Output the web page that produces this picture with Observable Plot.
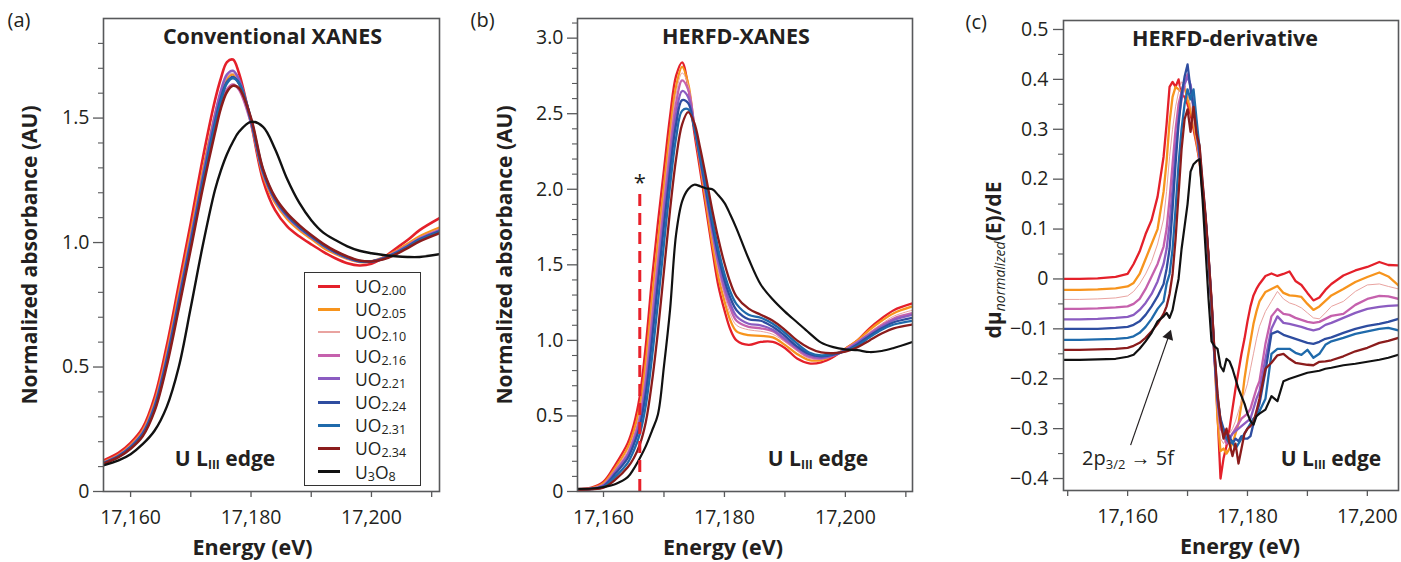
<!DOCTYPE html>
<html><head><meta charset="utf-8">
<script src="https://cdn.jsdelivr.net/npm/d3@7"></script>
<script src="https://cdn.jsdelivr.net/npm/@observablehq/plot@0.6"></script>
<style>
body{margin:0;background:#fff;}
#wrap{position:relative;width:1401px;height:562px;overflow:hidden;font-family:'Open Sans',sans-serif;color:#231f20;background:#fff;}
#wrap svg{position:absolute;top:0;}
.ov{position:absolute;white-space:nowrap;transform:translate(-50%,-50%);line-height:1;}
.edge{font-weight:bold;font-size:21px;}
.edge sub{font-size:12px;vertical-align:baseline;position:relative;top:3px;}
.ann{font-size:20px;}
.ann sub{font-size:13px;vertical-align:baseline;position:relative;top:4px;}
.ylab{font-weight:bold;font-size:21px;transform:translate(-50%,-50%) rotate(-90deg);}
.ylab sub{font-weight:normal;font-style:italic;font-size:14px;vertical-align:baseline;position:relative;top:4px;}
#legend{position:absolute;left:304px;top:272px;width:115px;height:212px;border:1.5px solid #333;background:#fff;}
.li{position:absolute;left:0;height:22px;width:115px;}
.li .sw{position:absolute;left:13px;width:22px;top:50%;}
.li .tx{position:absolute;left:50px;top:50%;transform:translateY(-52%);font-size:17.5px;line-height:18px;white-space:nowrap;}
.li .tx sub{font-size:12.5px;line-height:0;vertical-align:baseline;position:relative;top:2px;}
</style></head><body><div id="wrap"></div>
<script>
// ---------- series ----------
const seriesLabels = ["UO2.00","UO2.05","UO2.10","UO2.16","UO2.21","UO2.24","UO2.31","UO2.34","U3O8"];
const legendHtml = ["UO<sub>2.00</sub>","UO<sub>2.05</sub>","UO<sub>2.10</sub>","UO<sub>2.16</sub>","UO<sub>2.21</sub>","UO<sub>2.24</sub>","UO<sub>2.31</sub>","UO<sub>2.34</sub>","U<sub>3</sub>O<sub>8</sub>"];
const seriesColors = ["#e4202a","#f7941d","#e9a3a0","#c561ad","#8b5cc1","#2e4da0","#1f6aab","#8b1c1c","#111111"];

// ---------- panel (a) conventional XANES ----------
const energyA = [17155.5,17158,17160,17162,17164,17166,17168,17170,17172,17174,17175,17176,17177,17178,17180,17182,17184,17186,17188,17190,17192,17194,17196,17198,17200,17202,17204,17206,17208,17211.3];
const aUO200 = [0.125,0.155,0.195,0.255,0.38,0.585,0.83,1.08,1.34,1.57,1.66,1.725,1.735,1.68,1.48,1.25,1.13,1.065,1.025,0.993,0.963,0.937,0.917,0.908,0.915,0.94,0.975,1.01,1.05,1.098];
const aUO205 = [0.118,0.147,0.186,0.243,0.36,0.555,0.795,1.04,1.29,1.51,1.60,1.66,1.675,1.64,1.485,1.27,1.16,1.095,1.05,1.015,0.98,0.955,0.935,0.922,0.925,0.94,0.965,0.995,1.025,1.06];
const aUO210 = [0.117,0.146,0.184,0.24,0.355,0.548,0.787,1.03,1.28,1.51,1.60,1.665,1.68,1.645,1.49,1.275,1.165,1.10,1.055,1.02,0.985,0.957,0.937,0.923,0.925,0.94,0.963,0.99,1.02,1.055];
const aUO216 = [0.116,0.144,0.181,0.236,0.348,0.538,0.775,1.015,1.26,1.48,1.56,1.615,1.635,1.615,1.48,1.28,1.17,1.105,1.06,1.022,0.988,0.96,0.938,0.924,0.924,0.938,0.96,0.988,1.017,1.05];
const aUO221 = [0.115,0.143,0.18,0.234,0.345,0.535,0.772,1.015,1.27,1.51,1.61,1.675,1.69,1.655,1.49,1.28,1.17,1.105,1.058,1.022,0.988,0.96,0.938,0.924,0.924,0.937,0.959,0.986,1.015,1.048];
const aUO224 = [0.114,0.142,0.178,0.231,0.34,0.527,0.762,1.0,1.25,1.48,1.58,1.645,1.665,1.64,1.49,1.285,1.175,1.11,1.062,1.025,0.99,0.962,0.94,0.925,0.924,0.936,0.957,0.984,1.013,1.045];
const aUO231 = [0.113,0.14,0.175,0.227,0.333,0.517,0.75,0.99,1.24,1.47,1.57,1.64,1.66,1.64,1.495,1.29,1.178,1.113,1.065,1.027,0.992,0.963,0.941,0.926,0.924,0.935,0.955,0.982,1.01,1.042];
const aUO234 = [0.112,0.138,0.172,0.222,0.325,0.505,0.735,0.975,1.22,1.44,1.54,1.605,1.63,1.62,1.50,1.295,1.182,1.117,1.07,1.03,0.995,0.966,0.944,0.928,0.924,0.933,0.952,0.978,1.005,1.038];
const aU3O8  = [0.105,0.125,0.15,0.19,0.245,0.34,0.5,0.74,0.99,1.21,1.29,1.355,1.405,1.445,1.485,1.465,1.375,1.255,1.16,1.09,1.04,1.01,0.985,0.967,0.957,0.95,0.945,0.942,0.942,0.953];

// ---------- panel (b) HERFD-XANES ----------
const energyB = [17155.7,17158,17160,17162,17164,17165,17166,17167,17168,17169,17170,17171,17172,17173,17174,17175,17176,17177,17178,17179,17180,17181,17182,17184,17186,17188,17190,17192,17194,17196,17198,17200,17202,17204,17206,17208,17211.1];
const bUO200 = [0.015,0.025,0.065,0.18,0.32,0.44,0.63,0.97,1.40,1.78,2.13,2.48,2.75,2.84,2.68,2.38,2.12,1.86,1.60,1.36,1.20,1.07,1.0,0.97,0.99,0.99,0.95,0.88,0.848,0.855,0.89,0.945,1.0,1.08,1.145,1.20,1.245];
const bUO205 = [0.015,0.022,0.055,0.16,0.29,0.40,0.56,0.86,1.27,1.65,2.02,2.38,2.68,2.81,2.70,2.42,2.16,1.90,1.64,1.42,1.26,1.13,1.06,1.035,1.03,1.02,0.97,0.91,0.87,0.87,0.9,0.945,1.0,1.07,1.13,1.18,1.225];
const bUO210 = [0.014,0.02,0.05,0.15,0.27,0.37,0.52,0.80,1.2,1.58,1.96,2.32,2.63,2.77,2.69,2.43,2.18,1.93,1.68,1.46,1.30,1.17,1.10,1.07,1.06,1.04,0.99,0.93,0.88,0.875,0.9,0.945,0.995,1.055,1.11,1.16,1.20];
const bUO216 = [0.014,0.02,0.045,0.14,0.25,0.35,0.49,0.75,1.13,1.52,1.90,2.26,2.57,2.72,2.66,2.43,2.19,1.95,1.71,1.50,1.33,1.21,1.13,1.09,1.08,1.06,1.0,0.94,0.89,0.88,0.9,0.94,0.99,1.045,1.10,1.145,1.18];
const bUO221 = [0.013,0.018,0.04,0.13,0.24,0.33,0.46,0.70,1.06,1.45,1.83,2.19,2.50,2.65,2.61,2.42,2.19,1.96,1.73,1.52,1.36,1.24,1.16,1.11,1.10,1.07,1.01,0.95,0.9,0.885,0.9,0.935,0.985,1.04,1.09,1.135,1.17];
const bUO224 = [0.013,0.017,0.035,0.12,0.22,0.31,0.43,0.65,0.99,1.38,1.76,2.12,2.43,2.59,2.57,2.41,2.20,1.98,1.76,1.56,1.40,1.28,1.2,1.14,1.13,1.09,1.03,0.96,0.91,0.895,0.905,0.93,0.975,1.03,1.08,1.12,1.15];
const bUO231 = [0.012,0.016,0.03,0.10,0.19,0.27,0.38,0.57,0.88,1.25,1.64,2.02,2.34,2.52,2.53,2.41,2.22,2.01,1.80,1.60,1.44,1.32,1.24,1.17,1.15,1.11,1.05,0.98,0.92,0.9,0.91,0.93,0.965,1.02,1.07,1.105,1.13];
const bUO234 = [0.011,0.014,0.025,0.08,0.16,0.22,0.31,0.46,0.72,1.06,1.46,1.86,2.2,2.43,2.51,2.44,2.27,2.07,1.86,1.67,1.51,1.38,1.29,1.21,1.17,1.13,1.07,1.0,0.95,0.92,0.915,0.925,0.955,1.0,1.045,1.08,1.105];
const bU3O8  = [0.018,0.02,0.03,0.05,0.095,0.15,0.22,0.30,0.40,0.51,0.83,1.2,1.70,1.92,2.0,2.03,2.02,2.005,2.0,1.96,1.91,1.83,1.74,1.54,1.37,1.27,1.19,1.12,1.05,0.985,0.955,0.94,0.935,0.923,0.93,0.95,0.99];
const edgeMarkerE = [17166];
const edgeMarkerTop = [2.0];

// ---------- panel (c) HERFD derivative ----------
const energyC = [17149.3,17152,17155,17158,17160,17161,17162,17163,17164,17165,17166,17166.5,17167,17167.5,17168,17168.5,17169,17169.5,17170,17170.5,17171,17171.5,17172,17172.5,17173,17173.5,17174,17174.5,17175,17175.5,17176,17176.5,17177,17177.5,17178,17178.5,17179,17179.5,17180,17180.5,17181,17181.5,17182,17183,17184,17185,17186,17187,17188,17189,17190,17191,17192,17193,17194,17196,17198,17200,17202,17203.5,17205.2];
const cUO200 = [0.000,0.000,0.001,0.004,0.010,0.030,0.055,0.090,0.118,0.165,
 0.245,0.310,0.385,0.395,0.385,0.400,0.370,0.365,0.350,0.330,
 0.300,0.270,0.235,0.175,0.120,0.045,-0.040,-0.150,-0.270,-0.400,
 -0.360,-0.335,-0.300,-0.260,-0.220,-0.185,-0.150,-0.120,-0.085,-0.055,
 -0.033,-0.020,-0.010,0.006,0.011,0.006,0.010,0.015,-0.004,-0.012,
 -0.028,-0.043,-0.037,-0.022,-0.010,0.007,0.017,0.024,0.034,0.028,0.027];
const cUO205 = [-0.022,-0.022,-0.021,-0.019,-0.015,-0.008,0.010,0.040,0.070,0.100,
 0.175,0.235,0.315,0.365,0.385,0.380,0.375,0.385,0.360,0.340,
 0.310,0.275,0.238,0.178,0.118,0.040,-0.050,-0.160,-0.280,-0.345,
 -0.340,-0.350,-0.340,-0.330,-0.310,-0.290,-0.250,-0.200,-0.160,-0.125,
 -0.090,-0.065,-0.045,-0.026,-0.020,-0.014,-0.028,-0.033,-0.034,-0.036,
 -0.050,-0.062,-0.055,-0.044,-0.033,-0.020,-0.006,0.004,0.013,0.005,-0.013];
const cUO210 = [-0.041,-0.041,-0.040,-0.038,-0.034,-0.025,-0.010,0.010,0.035,0.070,
 0.120,0.175,0.245,0.300,0.345,0.375,0.395,0.390,0.370,0.350,
 0.315,0.280,0.240,0.180,0.118,0.040,-0.050,-0.155,-0.260,-0.320,
 -0.330,-0.320,-0.310,-0.300,-0.285,-0.265,-0.245,-0.230,-0.210,-0.180,
 -0.150,-0.120,-0.095,-0.065,-0.045,-0.025,-0.040,-0.048,-0.052,-0.058,
 -0.068,-0.078,-0.080,-0.068,-0.055,-0.045,-0.025,-0.012,-0.010,-0.015,-0.020];
const cUO216 = [-0.060,-0.060,-0.059,-0.057,-0.055,-0.050,-0.040,-0.020,0.005,0.030,
 0.065,0.100,0.160,0.230,0.300,0.350,0.375,0.395,0.410,0.385,
 0.340,0.295,0.242,0.180,0.118,0.040,-0.050,-0.160,-0.250,-0.300,
 -0.310,-0.330,-0.320,-0.310,-0.300,-0.290,-0.280,-0.275,-0.270,-0.260,
 -0.240,-0.220,-0.205,-0.130,-0.075,-0.060,-0.070,-0.072,-0.078,-0.082,
 -0.086,-0.088,-0.086,-0.080,-0.074,-0.070,-0.052,-0.040,-0.034,-0.035,-0.040];
const cUO221 = [-0.081,-0.081,-0.080,-0.078,-0.076,-0.072,-0.062,-0.048,-0.030,-0.005,
 0.030,0.060,0.110,0.180,0.260,0.320,0.360,0.390,0.405,0.390,
 0.350,0.298,0.245,0.182,0.120,0.040,-0.052,-0.160,-0.245,-0.290,
 -0.305,-0.315,-0.320,-0.310,-0.305,-0.300,-0.295,-0.290,-0.285,-0.280,
 -0.260,-0.240,-0.225,-0.160,-0.100,-0.075,-0.088,-0.090,-0.093,-0.096,
 -0.100,-0.103,-0.100,-0.092,-0.088,-0.078,-0.068,-0.060,-0.056,-0.054,-0.053];
const cUO224 = [-0.100,-0.100,-0.100,-0.098,-0.096,-0.092,-0.085,-0.072,-0.055,-0.035,
 -0.010,0.020,0.060,0.140,0.230,0.310,0.370,0.405,0.430,0.380,
 0.345,0.302,0.250,0.185,0.122,0.042,-0.050,-0.155,-0.240,-0.280,
 -0.300,-0.310,-0.315,-0.330,-0.320,-0.325,-0.315,-0.320,-0.320,-0.315,
 -0.290,-0.270,-0.250,-0.185,-0.110,-0.105,-0.112,-0.116,-0.120,-0.124,
 -0.128,-0.130,-0.126,-0.120,-0.117,-0.108,-0.100,-0.094,-0.090,-0.086,-0.080];
const cUO231 = [-0.122,-0.122,-0.121,-0.120,-0.118,-0.115,-0.108,-0.096,-0.080,-0.060,
 -0.045,-0.010,0.010,0.060,0.140,0.230,0.300,0.350,0.380,0.360,
 0.380,0.320,0.262,0.190,0.125,0.045,-0.048,-0.150,-0.235,-0.285,
 -0.310,-0.320,-0.330,-0.325,-0.340,-0.330,-0.320,-0.310,-0.300,-0.290,
 -0.280,-0.275,-0.265,-0.240,-0.150,-0.140,-0.140,-0.140,-0.148,-0.152,
 -0.142,-0.158,-0.150,-0.132,-0.125,-0.118,-0.110,-0.105,-0.100,-0.098,-0.103];
const cUO234 = [-0.142,-0.142,-0.141,-0.140,-0.138,-0.134,-0.128,-0.118,-0.105,-0.090,
 -0.070,-0.055,-0.030,0.010,0.080,0.170,0.260,0.320,0.340,0.295,
 0.345,0.290,0.268,0.195,0.128,0.048,-0.045,-0.145,-0.230,-0.285,
 -0.320,-0.300,-0.330,-0.355,-0.330,-0.370,-0.340,-0.310,-0.300,-0.295,
 -0.287,-0.265,-0.240,-0.180,-0.168,-0.153,-0.150,-0.160,-0.168,-0.170,
 -0.172,-0.173,-0.166,-0.165,-0.163,-0.155,-0.145,-0.138,-0.128,-0.124,-0.118];
const cU3O8 = [-0.162,-0.162,-0.161,-0.160,-0.156,-0.152,-0.140,-0.125,-0.108,-0.085,
 -0.075,-0.068,-0.078,-0.062,-0.030,0.000,0.060,0.105,0.150,0.215,
 0.230,0.236,0.240,0.160,0.060,-0.040,-0.125,-0.135,-0.140,-0.175,
 -0.185,-0.160,-0.165,-0.180,-0.200,-0.220,-0.235,-0.250,-0.270,-0.285,
 -0.292,-0.275,-0.270,-0.262,-0.235,-0.245,-0.205,-0.200,-0.196,-0.192,
 -0.188,-0.186,-0.184,-0.180,-0.178,-0.173,-0.170,-0.166,-0.162,-0.158,-0.152];
const arrowE = [17160.5, 17166.87];
const arrowV = [-0.333, -0.114];

// ---------- ticks ----------
const xMajorTicks = [17160, 17180, 17200];
const xMinorAB = [17170, 17190, 17210];
const xMinorC = [17150, 17170, 17190];
const yMajorA = [0, 0.5, 1.0, 1.5];
const yMinorA = [0.1,0.2,0.3,0.4,0.6,0.7,0.8,0.9,1.1,1.2,1.3,1.4,1.6,1.7,1.8];
const yMajorB = [0, 0.5, 1.0, 1.5, 2.0, 2.5, 3.0];
const yMinorB = [0.1,0.2,0.3,0.4,0.6,0.7,0.8,0.9,1.1,1.2,1.3,1.4,1.6,1.7,1.8,1.9,2.1,2.2,2.3,2.4,2.6,2.7,2.8,2.9,3.1];
const yMajorC = [-0.4,-0.3,-0.2,-0.1,0,0.1,0.2,0.3,0.4,0.5];
const yMinorC = [-0.35,-0.25,-0.15,-0.05,0.05,0.15,0.25,0.35,0.45];

// ---------- helpers ----------
const FONT = "'Open Sans', sans-serif";
const INK = "#231f20";
const AX = "#58595b";
const fmtX = d3.format(",");
const fmtY = d => d === 0 ? "0" : (d < 0 ? "\u2212" : "") + Math.abs(d).toFixed(1);
const rows = (E, V) => E.map((e, i) => ({E: e, v: V[i]}));

function axes(xMinor, yMajor, yMinor, xPad, yPad) {
  return [
    Plot.axisX({ticks: xMajorTicks, tickFormat: fmtX, tickSize: 6, tickPadding: xPad, label: null, stroke: AX, strokeWidth: 1.3, fontSize: 19.5, fill: INK}),
    Plot.axisX({ticks: xMinor, tickFormat: () => "", tickSize: 6, label: null, stroke: AX, strokeWidth: 1.3}),
    Plot.axisY({ticks: yMajor, tickFormat: fmtY, tickSize: 10, tickPadding: yPad, label: null, stroke: AX, strokeWidth: 1.3, fontSize: 19.5, fill: INK}),
    Plot.axisY({ticks: yMinor, tickFormat: () => "", tickSize: 5, label: null, stroke: AX, strokeWidth: 1.1})
  ];
}
function labels(tag, title, titleDx, ylab, ylabDx, xlabDx, tagDx, xlabDy) {
  const m = [
    Plot.text([title], {frameAnchor: "top", dx: titleDx, dy: 19, textAnchor: "middle", lineAnchor: "middle", text: d => d, fontWeight: "bold", fontSize: 21.5, fill: INK}),
    Plot.text(["Energy (eV)"], {frameAnchor: "bottom", dx: xlabDx, dy: xlabDy, textAnchor: "middle", lineAnchor: "middle", text: d => d, fontWeight: "bold", fontSize: 21.5, fill: INK}),
    Plot.text([tag], {frameAnchor: "top-left", dx: tagDx, dy: 2, textAnchor: "start", lineAnchor: "middle", text: d => d, fontSize: 20, fill: INK})
  ];
  if (ylab) m.push(Plot.text([ylab], {frameAnchor: "left", dx: ylabDx, rotate: -90, textAnchor: "middle", lineAnchor: "middle", text: d => d, fontWeight: "bold", fontSize: 21, fill: INK}));
  return m;
}
function seriesLines(E, sets, widths, curve) {
  return sets.map((V, k) => Plot.line(rows(E, V), {x: "E", y: "v", stroke: seriesColors[k], strokeWidth: widths[k], curve, clip: true}));
}

const wrap = document.getElementById("wrap");
function place(svg, left) { svg.style.left = left + "px"; wrap.appendChild(svg); }

// Panel (a)
const plotA = Plot.plot({
  width: 465, height: 562, marginLeft: 103, marginRight: 26, marginTop: 18, marginBottom: 71,
  x: {domain: [17155.5, 17211.3]}, y: {domain: [0, 1.9]},
  style: {fontFamily: FONT, fontSize: "19px", color: INK, background: "transparent", overflow: "visible"},
  marks: [
    ...seriesLines(energyA, [aUO200,aUO205,aUO210,aUO216,aUO221,aUO224,aUO231,aUO234,aU3O8], [2.6,2.6,1.2,2.6,2.6,2.6,2.6,2.6,2.4], "catmull-rom"),
    Plot.frame({stroke: AX, strokeWidth: 1.6}),
    ...axes(xMinorAB, yMajorA, yMinorA, 13, 4),
    ...labels("(a)", "Conventional XANES", 1, "Normalized absorbance (AU)", -73, -19, -96, 57)
  ]
});
place(plotA, 0);

// Panel (b)
const plotB = Plot.plot({
  width: 460, height: 562, marginLeft: 107, marginRight: 18, marginTop: 18, marginBottom: 71,
  x: {domain: [17155.7, 17211.1]}, y: {domain: [0, 3.13]},
  style: {fontFamily: FONT, fontSize: "19px", color: INK, background: "transparent", overflow: "visible"},
  marks: [
    ...seriesLines(energyB, [bUO200,bUO205,bUO210,bUO216,bUO221,bUO224,bUO231,bUO234,bU3O8], [2.3,2.3,1,2.3,2.3,2.3,2.3,2.3,2.2], "catmull-rom"),
    Plot.ruleX(edgeMarkerE, {x: d => d, y1: 0, y2: edgeMarkerTop[0], stroke: "#e8202a", strokeWidth: 3, strokeDasharray: "12,7"}),
    Plot.text(edgeMarkerE, {x: d => d, y: edgeMarkerTop[0], text: () => "*", dy: -6, textAnchor: "middle", lineAnchor: "middle", fontSize: 22, fill: INK}),
    Plot.frame({stroke: AX, strokeWidth: 1.6}),
    ...axes(xMinorAB, yMajorB, yMinorB, 13, 4),
    ...labels("(b)", "HERFD-XANES", -9, "Normalized absorbance (AU)", -72, -22, -107, 57)
  ]
});
place(plotB, 470);

// Panel (c)
const plotC = Plot.plot({
  width: 446, height: 562, marginLeft: 108, marginRight: 3, marginTop: 20, marginBottom: 72,
  x: {domain: [17149.3, 17205.2]}, y: {domain: [-0.424, 0.518]},
  style: {fontFamily: FONT, fontSize: "19px", color: INK, background: "transparent", overflow: "visible"},
  marks: [
    ...seriesLines(energyC, [cUO200,cUO205,cUO210,cUO216,cUO221,cUO224,cUO231,cUO234,cU3O8], [2.3,2.3,1,2.3,2.3,2.3,2.3,2.3,2.2], "linear"),
    Plot.link([0], {x1: () => arrowE[0], y1: () => arrowV[0], x2: () => arrowE[1], y2: () => arrowV[1], stroke: INK, strokeWidth: 1.2}),
    Plot.dot([0], {x: () => arrowE[1], y: () => arrowV[1], symbol: "triangle", r: 4.2, fill: INK, stroke: "none", rotate: 19}),
    Plot.frame({stroke: AX, strokeWidth: 1.6}),
    ...axes(xMinorC, yMajorC, yMinorC, 13, 5),
    ...labels("(c)", "HERFD-derivative", -6, null, 0, 9, -98, 57)
  ]
});
place(plotC, 955);

// ---------- rich-text overlays ----------
function ov(html, x, y, cls) {
  const d = document.createElement("div");
  d.className = "ov " + cls; d.innerHTML = html;
  d.style.left = x + "px"; d.style.top = y + "px";
  wrap.appendChild(d);
}
ov("U L<sub>III</sub> edge", 225, 458, "edge");
ov("U L<sub>III</sub> edge", 818, 458, "edge");
ov("U L<sub>III</sub> edge", 1331, 458, "edge");
ov("2p<sub>3/2</sub> \u2192 5f", 1128, 458, "ann");
ov("d\u03bc<sub>normalized</sub>(E)/dE", 993, 260, "ylab");

const lg = document.createElement("div"); lg.id = "legend"; wrap.appendChild(lg);
seriesLabels.forEach((s, i) => {
  const it = document.createElement("div"); it.className = "li";
  it.style.top = (2 + i * 23.2) + "px";
  const sw = document.createElement("div"); sw.className = "sw";
  const h = i === 2 ? 2 : 3;
  sw.style.height = h + "px"; sw.style.marginTop = (-h / 2) + "px"; sw.style.background = seriesColors[i];
  const tx = document.createElement("div"); tx.className = "tx"; tx.innerHTML = legendHtml[i];
  it.appendChild(sw); it.appendChild(tx); lg.appendChild(it);
});
</script></body></html>
